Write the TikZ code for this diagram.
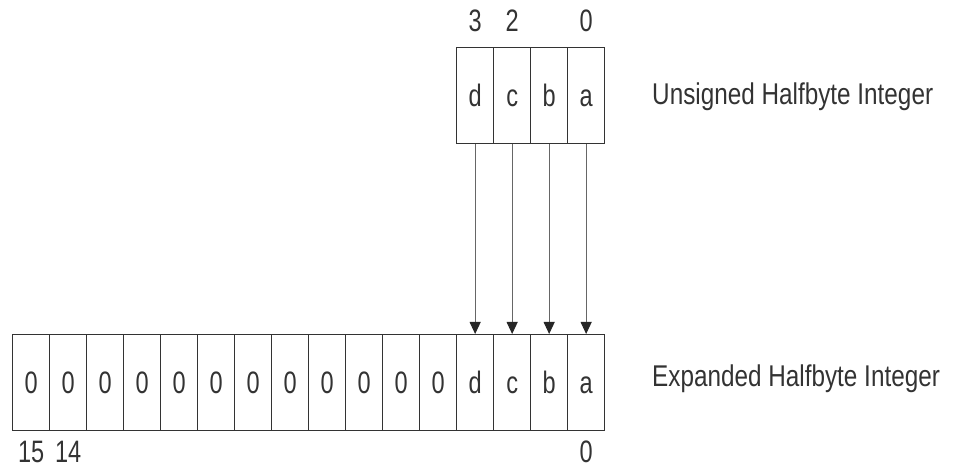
\documentclass[tikz,border=0pt]{standalone}
\usepackage{fontspec}
\setmainfont{Liberation Sans}
\usepackage{graphicx}
\usetikzlibrary{arrows.meta}
\newcommand\nar[1]{\scalebox{0.76}[1]{#1}}
\newcommand\narl[1]{\scalebox{0.81}[1]{#1}}
\definecolor{ink}{HTML}{333333}
\begin{document}
\begin{tikzpicture}[x=1pt,y=-1pt,
  cell/.style={draw=ink, line width=1.3pt, minimum width=37pt, minimum height=96pt,
    inner sep=0pt, text height=22pt, text depth=0pt,
    font=\fontsize{31}{33}\selectfont, text=ink, anchor=north west},
  lbl/.style={font=\fontsize{31}{33}\selectfont, text=ink, inner sep=0pt},
  ttl/.style={font=\fontsize{30}{32}\selectfont, text=ink, inner sep=0pt},
  bitarrow/.style={draw=ink!75, line width=1pt,
    -{Triangle[width=11pt,length=12pt,color=black!85]}}]
\useasboundingbox (0,0) rectangle (954,470);
% top: unsigned halfbyte
\foreach \i/\t in {3/d,2/c,1/b,0/a}{
  \node[cell] (t\i) at ({456+(3-\i)*37},47) {\nar{\t}};
}
% bottom: expanded
\foreach \i in {4,...,15}{
  \node[cell] (b\i) at ({12+(15-\i)*37},334) {\nar{0}};
}
\foreach \i/\t in {3/d,2/c,1/b,0/a}{
  \node[cell] (b\i) at ({12+(15-\i)*37},334) {\nar{\t}};
}
% bit numbers
\node[lbl, anchor=base] (n3) at (t3.center |- 0,32) {\nar{3}};
\node[lbl, anchor=base] (n2) at (t2.center |- 0,32) {\nar{2}};
\node[lbl, anchor=base] (n0) at (t0.center |- 0,32) {\nar{0}};
\node[lbl, anchor=base] (m15) at (b15.center |- 0,463) {\nar{15}};
\node[lbl, anchor=base] (m14) at (b14.center |- 0,463) {\nar{14}};
\node[lbl, anchor=base] (m0) at (b0.center |- 0,463) {\nar{0}};
% titles
\node[ttl, anchor=base west] (ut) at (652,105) {\narl{Unsigned Halfbyte Integer}};
\node[ttl, anchor=base west] (et) at (652,387) {\narl{Expanded Halfbyte Integer}};
% arrows
\foreach \i in {0,...,3}{
  \draw[bitarrow] (t\i.south) -- (b\i.north);
}
\end{tikzpicture}
\end{document}
